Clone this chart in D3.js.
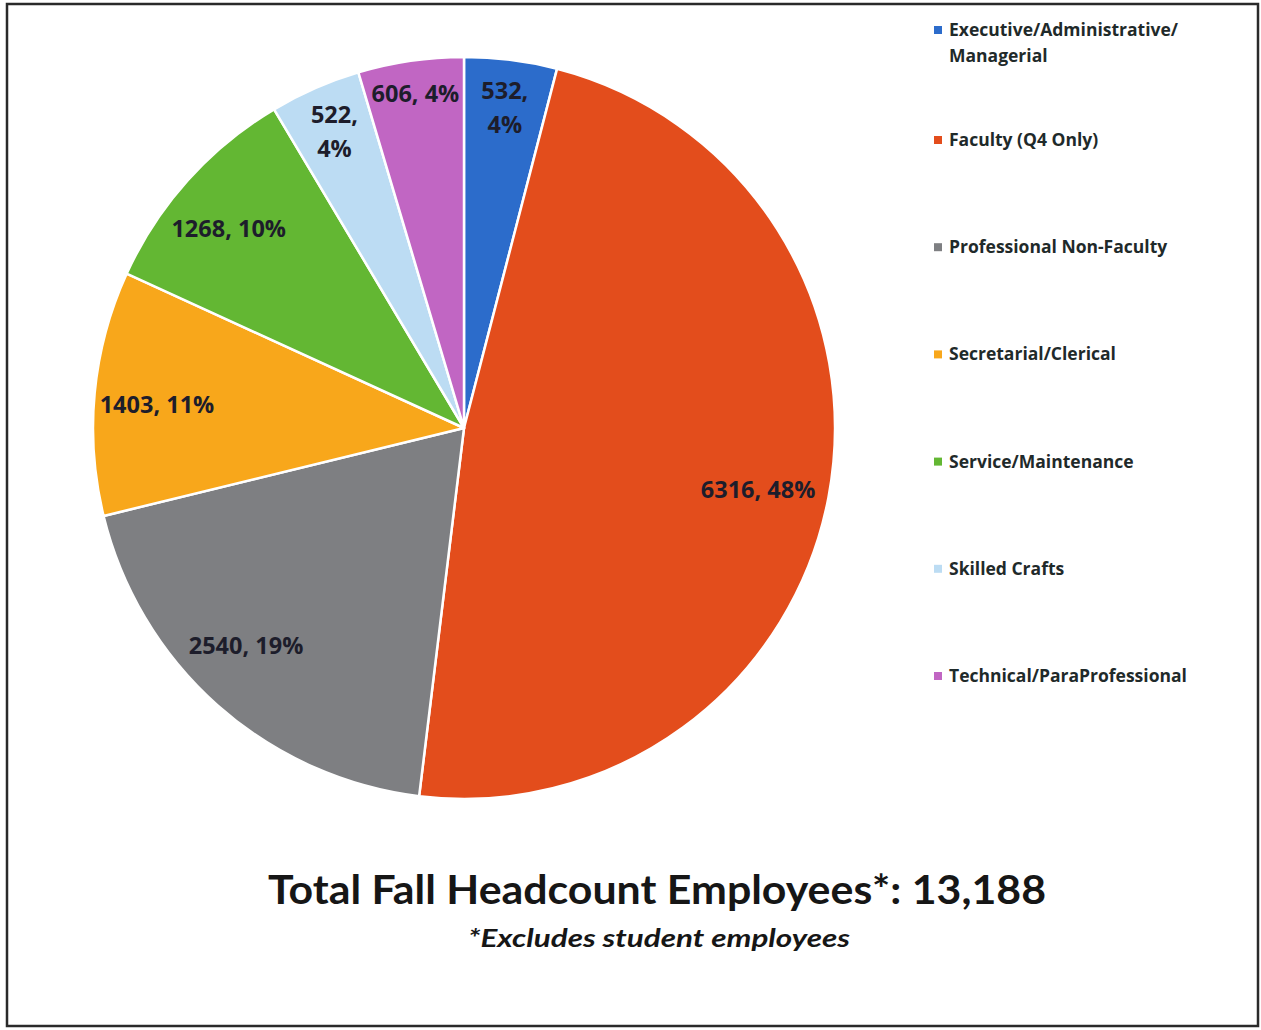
<!DOCTYPE html>
<html>
<head>
<meta charset="utf-8">
<script src="https://cdn.jsdelivr.net/npm/d3@7/dist/d3.min.js"></script>
<style>
  html, body { margin: 0; padding: 0; background: #ffffff; }
  svg { display: block; }
</style>
</head>
<body>
<svg id="chart" width="1261" height="1030"></svg>
<script>
// Fall headcount of employees by category
const categories = [
  "Executive/Administrative/Managerial",
  "Faculty (Q4 Only)",
  "Professional Non-Faculty",
  "Secretarial/Clerical",
  "Service/Maintenance",
  "Skilled Crafts",
  "Technical/ParaProfessional"
];
const headcounts = [532, 6316, 2540, 1403, 1268, 522, 606];
const percentLabels = [4, 48, 19, 11, 10, 4, 4];
const legendLines = [
  ["Executive/Administrative/", "Managerial"],
  ["Faculty (Q4 Only)"],
  ["Professional Non-Faculty"],
  ["Secretarial/Clerical"],
  ["Service/Maintenance"],
  ["Skilled Crafts"],
  ["Technical/ParaProfessional"]
];
const sliceColors = ["#2c6ccb", "#e34d1c", "#7e7f82", "#f8a71b", "#63b733", "#bcdcf3", "#c166c3"];
const titleText = "Total Fall Headcount Employees*: 13,188";
const noteText = "*Excludes student employees";

const svg = d3.select("#chart");

// outer frame
svg.append("rect")
  .attr("x", 7).attr("y", 4)
  .attr("width", 1251).attr("height", 1022)
  .attr("fill", "#fff")
  .attr("stroke", "#2a2a2a")
  .attr("stroke-width", 2.5);

const cx = 464, cy = 428, R = 371;
const g = svg.append("g").attr("transform", `translate(${cx},${cy})`);

const pie = d3.pie().sort(null).value(d => d.value);
const data = categories.map((c, i) => ({ name: c, value: headcounts[i], pct: percentLabels[i], color: sliceColors[i] }));
const arcs = pie(data);
const arc = d3.arc().innerRadius(0).outerRadius(R);

g.selectAll("path.slice")
  .data(arcs)
  .enter().append("path")
  .attr("class", "slice")
  .attr("d", arc)
  .attr("fill", d => d.data.color)
  .attr("stroke", "#ffffff")
  .attr("stroke-width", 2.5)
  .attr("stroke-linejoin", "round");

// data labels: "value, pct%" placed along each slice's mid angle
const labelRadius = [0.87, 0.81, 0.83, 0.83, 0.83, 0.87, 0.91];
const labelTurn = [0, 0.02, 0.06, -0.02, -0.03, 0, 0];
const twoLine = [true, false, false, false, false, true, false];
g.selectAll("text.lbl")
  .data(arcs)
  .enter().append("text")
  .attr("class", "lbl")
  .attr("font-family", "'Open Sans', sans-serif")
  .attr("font-weight", 700)
  .attr("font-size", 23.5)
  .attr("fill", "#1d1d2b")
  .attr("text-anchor", "middle")
  .each(function(d, i) {
    const a = (d.startAngle + d.endAngle) / 2 + labelTurn[i];
    const r = R * labelRadius[i];
    const x = Math.sin(a) * r, y = -Math.cos(a) * r;
    const t = d3.select(this);
    if (twoLine[i]) {
      t.append("tspan").attr("x", x).attr("y", y - 9).text(`${d.data.value},`);
      t.append("tspan").attr("x", x).attr("y", y + 25).text(`${d.data.pct}%`);
    } else {
      t.attr("x", x).attr("y", y + 8).text(`${d.data.value}, ${d.data.pct}%`);
    }
  });

// legend
const legend = svg.append("g").attr("transform", "translate(934,0)");
const legendY = d3.scaleLinear().domain([1, 6]).range([140, 676]);
legendLines.forEach((lines, i) => {
  const y = i === 0 ? 30 : legendY(i);
  legend.append("rect")
    .attr("x", 0).attr("y", y - 4)
    .attr("width", 8).attr("height", 8)
    .attr("fill", sliceColors[i]);
  const t = legend.append("text")
    .attr("font-family", "'Open Sans', sans-serif")
    .attr("font-weight", 700)
    .attr("font-size", 17.5)
    .attr("fill", "#1f2a2a");
  lines.forEach((ln, k) => {
    t.append("tspan").attr("x", 15).attr("y", y + 6 + k * 26).text(ln);
  });
});

// title and footnote
svg.append("text")
  .attr("x", 657).attr("y", 904)
  .attr("text-anchor", "middle")
  .attr("font-family", "Lato, 'Open Sans', sans-serif")
  .attr("font-weight", 700)
  .attr("font-size", 40)
  .attr("fill", "#161616")
  .attr("textLength", 778)
  .attr("lengthAdjust", "spacingAndGlyphs")
  .text(titleText);

svg.append("text")
  .attr("x", 659).attr("y", 947)
  .attr("text-anchor", "middle")
  .attr("font-family", "Lato, 'Open Sans', sans-serif")
  .attr("font-weight", 700)
  .attr("font-style", "italic")
  .attr("font-size", 25)
  .attr("fill", "#161616")
  .attr("textLength", 382)
  .attr("lengthAdjust", "spacingAndGlyphs")
  .text(noteText);
</script>
</body>
</html>
